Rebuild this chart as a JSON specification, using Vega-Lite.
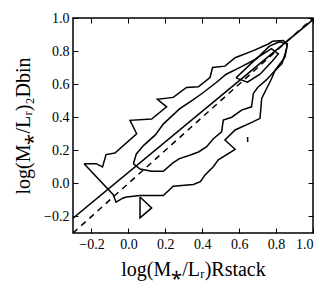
{
  "$schema": "https://vega.github.io/schema/vega-lite/v6.json",
  "width": 240,
  "height": 215,
  "autosize": {"type": "none"},
  "padding": {"left": 73, "top": 18, "right": 23, "bottom": 62},
  "background": "white",
  "config": {
    "view": {"stroke": "black", "strokeWidth": 1.5},
    "axis": {
      "grid": false,
      "domain": false,
      "labelFont": "Liberation Serif",
      "labelFontSize": 14,
      "labelColor": "black",
      "titleFont": "Liberation Serif",
      "titleFontSize": 20,
      "titleFontWeight": "normal",
      "titleColor": "black",
      "tickColor": "black",
      "tickWidth": 1,
      "tickSize": -5
    }
  },
  "datasets": {
    "contours": [
      {"g": "outer", "i": 1, "x": -0.240, "y": 0.119},
      {"g": "outer", "i": 2, "x": -0.175, "y": 0.119},
      {"g": "outer", "i": 3, "x": -0.140, "y": 0.099},
      {"g": "outer", "i": 4, "x": -0.121, "y": 0.174},
      {"g": "outer", "i": 5, "x": -0.073, "y": 0.184},
      {"g": "outer", "i": 6, "x": 0.045, "y": 0.300},
      {"g": "outer", "i": 7, "x": 0.009, "y": 0.381},
      {"g": "outer", "i": 8, "x": 0.126, "y": 0.389},
      {"g": "outer", "i": 9, "x": 0.207, "y": 0.463},
      {"g": "outer", "i": 10, "x": 0.157, "y": 0.508},
      {"g": "outer", "i": 11, "x": 0.243, "y": 0.520},
      {"g": "outer", "i": 12, "x": 0.315, "y": 0.580},
      {"g": "outer", "i": 13, "x": 0.379, "y": 0.584},
      {"g": "outer", "i": 14, "x": 0.442, "y": 0.640},
      {"g": "outer", "i": 15, "x": 0.456, "y": 0.701},
      {"g": "outer", "i": 16, "x": 0.523, "y": 0.709},
      {"g": "outer", "i": 17, "x": 0.578, "y": 0.760},
      {"g": "outer", "i": 18, "x": 0.677, "y": 0.803},
      {"g": "outer", "i": 19, "x": 0.758, "y": 0.843},
      {"g": "outer", "i": 20, "x": 0.781, "y": 0.859},
      {"g": "outer", "i": 21, "x": 0.839, "y": 0.864},
      {"g": "outer", "i": 22, "x": 0.861, "y": 0.843},
      {"g": "outer", "i": 23, "x": 0.848, "y": 0.763},
      {"g": "outer", "i": 24, "x": 0.794, "y": 0.683},
      {"g": "outer", "i": 25, "x": 0.776, "y": 0.634},
      {"g": "outer", "i": 26, "x": 0.722, "y": 0.514},
      {"g": "outer", "i": 27, "x": 0.713, "y": 0.393},
      {"g": "outer", "i": 28, "x": 0.677, "y": 0.373},
      {"g": "outer", "i": 29, "x": 0.578, "y": 0.323},
      {"g": "outer", "i": 30, "x": 0.523, "y": 0.262},
      {"g": "outer", "i": 31, "x": 0.578, "y": 0.206},
      {"g": "outer", "i": 32, "x": 0.487, "y": 0.142},
      {"g": "outer", "i": 33, "x": 0.460, "y": 0.101},
      {"g": "outer", "i": 34, "x": 0.415, "y": 0.051},
      {"g": "outer", "i": 35, "x": 0.390, "y": 0.010},
      {"g": "outer", "i": 36, "x": 0.352, "y": -0.007},
      {"g": "outer", "i": 37, "x": 0.243, "y": -0.017},
      {"g": "outer", "i": 38, "x": 0.189, "y": -0.074},
      {"g": "outer", "i": 39, "x": 0.063, "y": -0.074},
      {"g": "outer", "i": 40, "x": -0.010, "y": -0.082},
      {"g": "outer", "i": 41, "x": -0.028, "y": -0.088},
      {"g": "outer", "i": 42, "x": -0.067, "y": -0.114},
      {"g": "outer", "i": 43, "x": -0.082, "y": -0.068},
      {"g": "outer", "i": 44, "x": -0.240, "y": 0.119},
      {"g": "middle", "i": 1, "x": 0.027, "y": 0.119},
      {"g": "middle", "i": 2, "x": 0.043, "y": 0.178},
      {"g": "middle", "i": 3, "x": 0.083, "y": 0.230},
      {"g": "middle", "i": 4, "x": 0.146, "y": 0.293},
      {"g": "middle", "i": 5, "x": 0.190, "y": 0.360},
      {"g": "middle", "i": 6, "x": 0.277, "y": 0.450},
      {"g": "middle", "i": 7, "x": 0.350, "y": 0.505},
      {"g": "middle", "i": 8, "x": 0.404, "y": 0.548},
      {"g": "middle", "i": 9, "x": 0.476, "y": 0.610},
      {"g": "middle", "i": 10, "x": 0.530, "y": 0.660},
      {"g": "middle", "i": 11, "x": 0.602, "y": 0.700},
      {"g": "middle", "i": 12, "x": 0.692, "y": 0.752},
      {"g": "middle", "i": 13, "x": 0.764, "y": 0.830},
      {"g": "middle", "i": 14, "x": 0.818, "y": 0.856},
      {"g": "middle", "i": 15, "x": 0.861, "y": 0.843},
      {"g": "middle", "i": 16, "x": 0.854, "y": 0.800},
      {"g": "middle", "i": 17, "x": 0.832, "y": 0.724},
      {"g": "middle", "i": 18, "x": 0.782, "y": 0.668},
      {"g": "middle", "i": 19, "x": 0.746, "y": 0.624},
      {"g": "middle", "i": 20, "x": 0.700, "y": 0.580},
      {"g": "middle", "i": 21, "x": 0.677, "y": 0.544},
      {"g": "middle", "i": 22, "x": 0.667, "y": 0.463},
      {"g": "middle", "i": 23, "x": 0.613, "y": 0.443},
      {"g": "middle", "i": 24, "x": 0.560, "y": 0.400},
      {"g": "middle", "i": 25, "x": 0.514, "y": 0.383},
      {"g": "middle", "i": 26, "x": 0.505, "y": 0.312},
      {"g": "middle", "i": 27, "x": 0.460, "y": 0.270},
      {"g": "middle", "i": 28, "x": 0.424, "y": 0.222},
      {"g": "middle", "i": 29, "x": 0.380, "y": 0.190},
      {"g": "middle", "i": 30, "x": 0.332, "y": 0.170},
      {"g": "middle", "i": 31, "x": 0.277, "y": 0.150},
      {"g": "middle", "i": 32, "x": 0.241, "y": 0.124},
      {"g": "middle", "i": 33, "x": 0.189, "y": 0.073},
      {"g": "middle", "i": 34, "x": 0.126, "y": 0.073},
      {"g": "middle", "i": 35, "x": 0.063, "y": 0.087},
      {"g": "middle", "i": 36, "x": 0.027, "y": 0.119},
      {"g": "inner", "i": 1, "x": 0.583, "y": 0.638},
      {"g": "inner", "i": 2, "x": 0.695, "y": 0.757},
      {"g": "inner", "i": 3, "x": 0.775, "y": 0.815},
      {"g": "inner", "i": 4, "x": 0.812, "y": 0.783},
      {"g": "inner", "i": 5, "x": 0.780, "y": 0.740},
      {"g": "inner", "i": 6, "x": 0.713, "y": 0.660},
      {"g": "inner", "i": 7, "x": 0.645, "y": 0.612},
      {"g": "inner", "i": 8, "x": 0.583, "y": 0.638},
      {"g": "tri", "i": 1, "x": 0.063, "y": -0.082},
      {"g": "tri", "i": 2, "x": 0.063, "y": -0.208},
      {"g": "tri", "i": 3, "x": 0.126, "y": -0.148},
      {"g": "tri", "i": 4, "x": 0.063, "y": -0.082},
      {"g": "dot", "i": 1, "x": 0.646, "y": 0.280},
      {"g": "dot", "i": 2, "x": 0.646, "y": 0.250}
    ],
    "lines": [
      {"g": "fit", "x": -0.3, "y": -0.21},
      {"g": "fit", "x": 1.0, "y": 0.99},
      {"g": "one", "x": -0.3, "y": -0.3},
      {"g": "one", "x": 1.0, "y": 1.0}
    ]
  },
  "layer": [
    {
      "data": {"name": "contours"},
      "mark": {"type": "line", "color": "black", "strokeWidth": 1.5, "clip": true},
      "encoding": {
        "x": {
          "field": "x", "type": "quantitative",
          "scale": {"domain": [-0.3, 1.0], "nice": false, "zero": false},
          "axis": {
            "values": [-0.2, 0, 0.2, 0.4, 0.6, 0.8, 1.0],
            "format": ".1f",
            "labelPadding": 9,
            "title": "log(M⁎/Lᵣ)Rstack",
            "titlePadding": 8
          }
        },
        "y": {
          "field": "y", "type": "quantitative",
          "scale": {"domain": [-0.3, 1.0], "nice": false, "zero": false},
          "axis": {
            "values": [-0.2, 0, 0.2, 0.4, 0.6, 0.8, 1.0],
            "format": ".1f",
            "labelPadding": 9,
            "title": "log(M⁎/Lᵣ)₂Dbin",
            "titlePadding": 10
          }
        },
        "detail": {"field": "g"},
        "order": {"field": "i", "type": "quantitative"}
      }
    },
    {
      "data": {"name": "lines"},
      "transform": [{"filter": "datum.g == 'fit'"}],
      "mark": {"type": "line", "color": "black", "strokeWidth": 1.5, "clip": true},
      "encoding": {
        "x": {"field": "x", "type": "quantitative", "axis": {"orient": "top", "values": [-0.2, 0, 0.2, 0.4, 0.6, 0.8, 1.0], "labels": false, "title": null}},
        "y": {"field": "y", "type": "quantitative", "axis": {"orient": "right", "values": [-0.2, 0, 0.2, 0.4, 0.6, 0.8, 1.0], "labels": false, "title": null}}
      }
    },
    {
      "data": {"name": "lines"},
      "transform": [{"filter": "datum.g == 'one'"}],
      "mark": {"type": "line", "color": "black", "strokeWidth": 1.5, "strokeDash": [6, 5], "clip": true},
      "encoding": {
        "x": {"field": "x", "type": "quantitative", "axis": null},
        "y": {"field": "y", "type": "quantitative", "axis": null}
      }
    }
  ],
  "resolve": {"axis": {"x": "independent", "y": "independent"}}
}
